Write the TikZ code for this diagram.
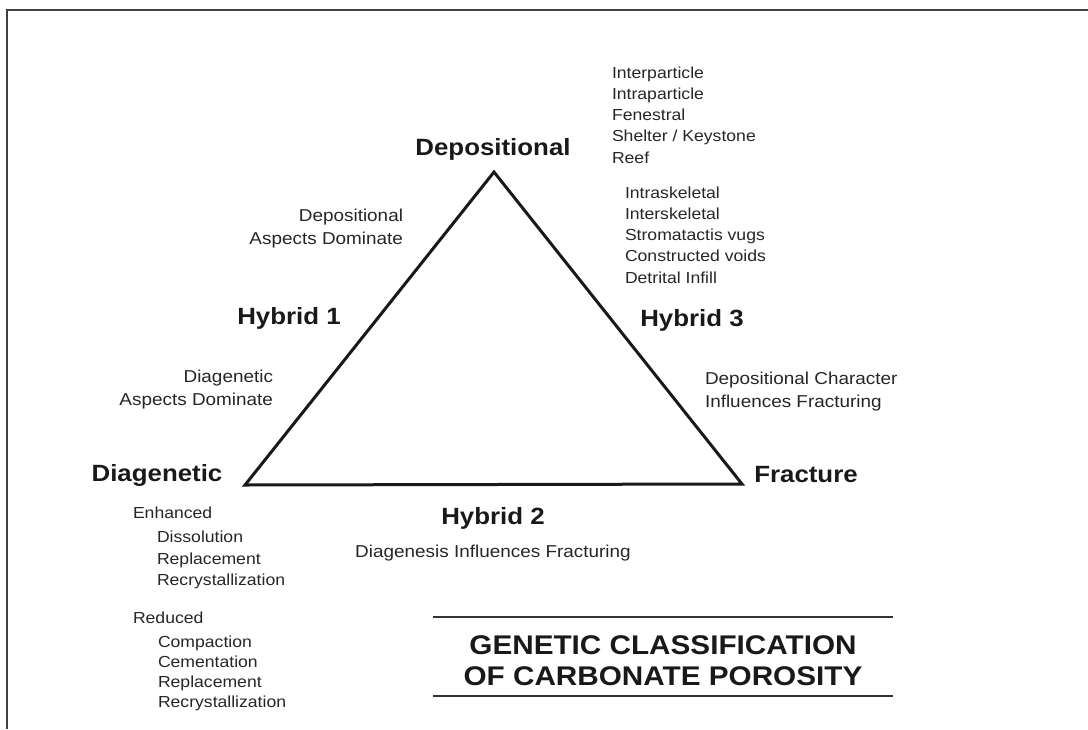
\documentclass[tikz,border=0pt]{standalone}
\usepackage{fontspec}
\setmainfont{Liberation Sans}[FakeStretch=1.1]
\begin{document}
\begin{tikzpicture}[x=1pt,y=-1pt,
  every node/.style={inner sep=0pt,outer sep=0pt},
  corner/.style={font=\fontsize{23.5}{27}\selectfont\bfseries,text=black!90},
  hybrid/.style={font=\fontsize{23.5}{27}\selectfont\bfseries,text=black!90},
  note/.style={font=\fontsize{17.2}{23}\selectfont,text=black!85},
  listtext/.style={font=\fontsize{16}{21.2}\selectfont,text=black!85,align=left},
  titletext/.style={font=\fontsize{27}{31}\selectfont\bfseries,text=black!90,align=center},
  frame/.style={line width=2pt,draw=black!75},
  tri/.style={line width=3pt,draw=black!90,line join=miter},
  rule/.style={line width=1.4pt,draw=black!80}]
\useasboundingbox (0,0) rectangle (1088,729);
% frame
\coordinate (fbl) at (7,729);
\coordinate (ftl) at (7,10);
\coordinate (ftr) at (1088,10);
\draw[frame] (fbl) -- (ftl) -- (ftr);
% triangle
\coordinate (apex) at (494,172);
\coordinate (left) at (245,485);
\coordinate (right) at (742,484);
\draw[tri] (apex) -- (left) -- (right) -- cycle;
% corner labels
\node[corner] (dep) at (493,149) {Depositional};
\node[corner] (dia) at (157,475) {Diagenetic};
\node[corner] (fra) at (806,475) {Fracture};
% hybrids
\node[hybrid] (h1) at (289,318) {Hybrid 1};
\node[hybrid] (h3) at (692,320) {Hybrid 3};
\node[hybrid] (h2) at (493,518) {Hybrid 2};
% notes
\node[note,align=right,anchor=east] (depasp) at (403,229) {Depositional\\Aspects Dominate};
\node[note,align=right,anchor=east] (diaasp) at (273,390) {Diagenetic\\Aspects Dominate};
\node[note,align=left,anchor=west] (depchar) at (705,392) {Depositional Character\\Influences Fracturing};
\node[note] (diagfrac) at (493,553) {Diagenesis Influences Fracturing};
% lists
\node[listtext,anchor=west] (list1) at (612,115) {Interparticle\\Intraparticle\\Fenestral\\Shelter / Keystone\\Reef};
\node[listtext,anchor=west] (list2) at (625,235) {Intraskeletal\\Interskeletal\\Stromatactis vugs\\Constructed voids\\Detrital Infill};
\node[listtext,anchor=west] (enh) at (133,513) {Enhanced};
\node[listtext,anchor=west] (enhlist) at (157,560) {Dissolution\\Replacement\\Recrystallization};
\node[listtext,anchor=west] (red) at (133,618) {Reduced};
\node[listtext,anchor=west,font=\fontsize{16}{20}\selectfont] (redlist) at (158,673) {Compaction\\Cementation\\Replacement\\Recrystallization};
% title
\coordinate (r1a) at (433,617);
\coordinate (r1b) at (893,617);
\coordinate (r2a) at (433,696);
\coordinate (r2b) at (893,696);
\draw[rule] (r1a) -- (r1b);
\draw[rule] (r2a) -- (r2b);
\node[titletext] (title) at (663,661) {GENETIC CLASSIFICATION\\OF CARBONATE POROSITY};
\end{tikzpicture}
\end{document}
